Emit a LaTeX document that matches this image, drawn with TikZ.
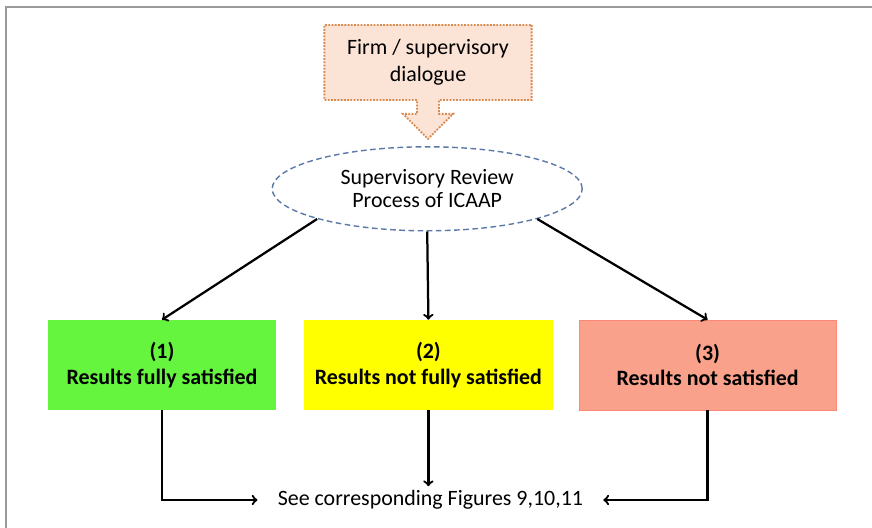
\documentclass[tikz,border=0pt]{standalone}
\usepackage{fontspec}
\setmainfont{Carlito}
\usetikzlibrary{positioning,shapes,arrows}

\definecolor{dlgfill}{HTML}{FBE4D5}
\definecolor{dlgline}{HTML}{D98A4E}
\definecolor{ellline}{HTML}{5A78A8}
\definecolor{okgreen}{HTML}{66F53F}
\definecolor{partyellow}{HTML}{FFFF00}
\definecolor{notsalmon}{HTML}{F9A18B}
\definecolor{framegray}{HTML}{9A9A9A}

\tikzset{
  txt/.style={font=\fontsize{15.6}{16.4}\selectfont, align=center},
  result/.style={txt, rectangle, minimum height=2.25cm, font=\bfseries\fontsize{15.6}{18.4}\selectfont},
  flow/.style={->, >=to, line width=1.6pt},
}

\begin{document}
\begin{tikzpicture}
\useasboundingbox (0,0) rectangle (21.8,-13.2);
% frame
\draw[line width=1.5pt, color=framegray](0.16,-13.2) -- (0.16,-0.18) -- (21.8,-0.18);

% dialogue and review
\node[txt, arrow box, draw=dlgline, densely dotted, line width=1.3pt, fill=dlgfill,
      minimum width=5.18cm, minimum height=1.875cm, inner sep=0pt,
      font=\fontsize{15.6}{19}\selectfont,
      arrow box arrows={south:0.95cm}, arrow box shaft width=0.55cm,
      arrow box head extend=0.35cm] (dlg) at (10.7,-1.5625) {Firm / supervisory\\dialogue};
\node[txt, ellipse, draw=ellline, dash pattern=on 4pt off 2.5pt, line width=1pt, fill=white,
      minimum width=7.75cm, minimum height=2.1cm, inner sep=0pt] (ell) at (10.68,-4.72) {Supervisory Review\\Process of ICAAP};

% results
\node[result, fill=okgreen, minimum width=5.7cm] (res1) at (4.05,-9.125) {(1)\\Results fully satisfied};
\node[result, fill=partyellow, minimum width=6.22cm] (res2) at (10.71,-9.125) {(2)\\Results not fully satisfied};
\node[result, fill=notsalmon, draw=notsalmon!85!red, line width=0.4pt, minimum width=6.43cm] (res3) at (17.69,-9.125) {(3)\\Results not satisfied};

\node[txt, inner xsep=0.5cm, inner ysep=0.1cm] (see) at (10.76,-12.5) {See corresponding Figures 9,10,11};

\draw[flow](ell.south west) -- (res1.north);
\draw[flow](ell.south) -- (res2.north);
\draw[flow](ell.south east) -- (res3.north);
\draw[flow](res1.south) |- (see.west);
\draw[flow](res2.south) -- (see.north -| res2.south);
\draw[flow](res3.south) |- (see.east);
\end{tikzpicture}
\end{document}
